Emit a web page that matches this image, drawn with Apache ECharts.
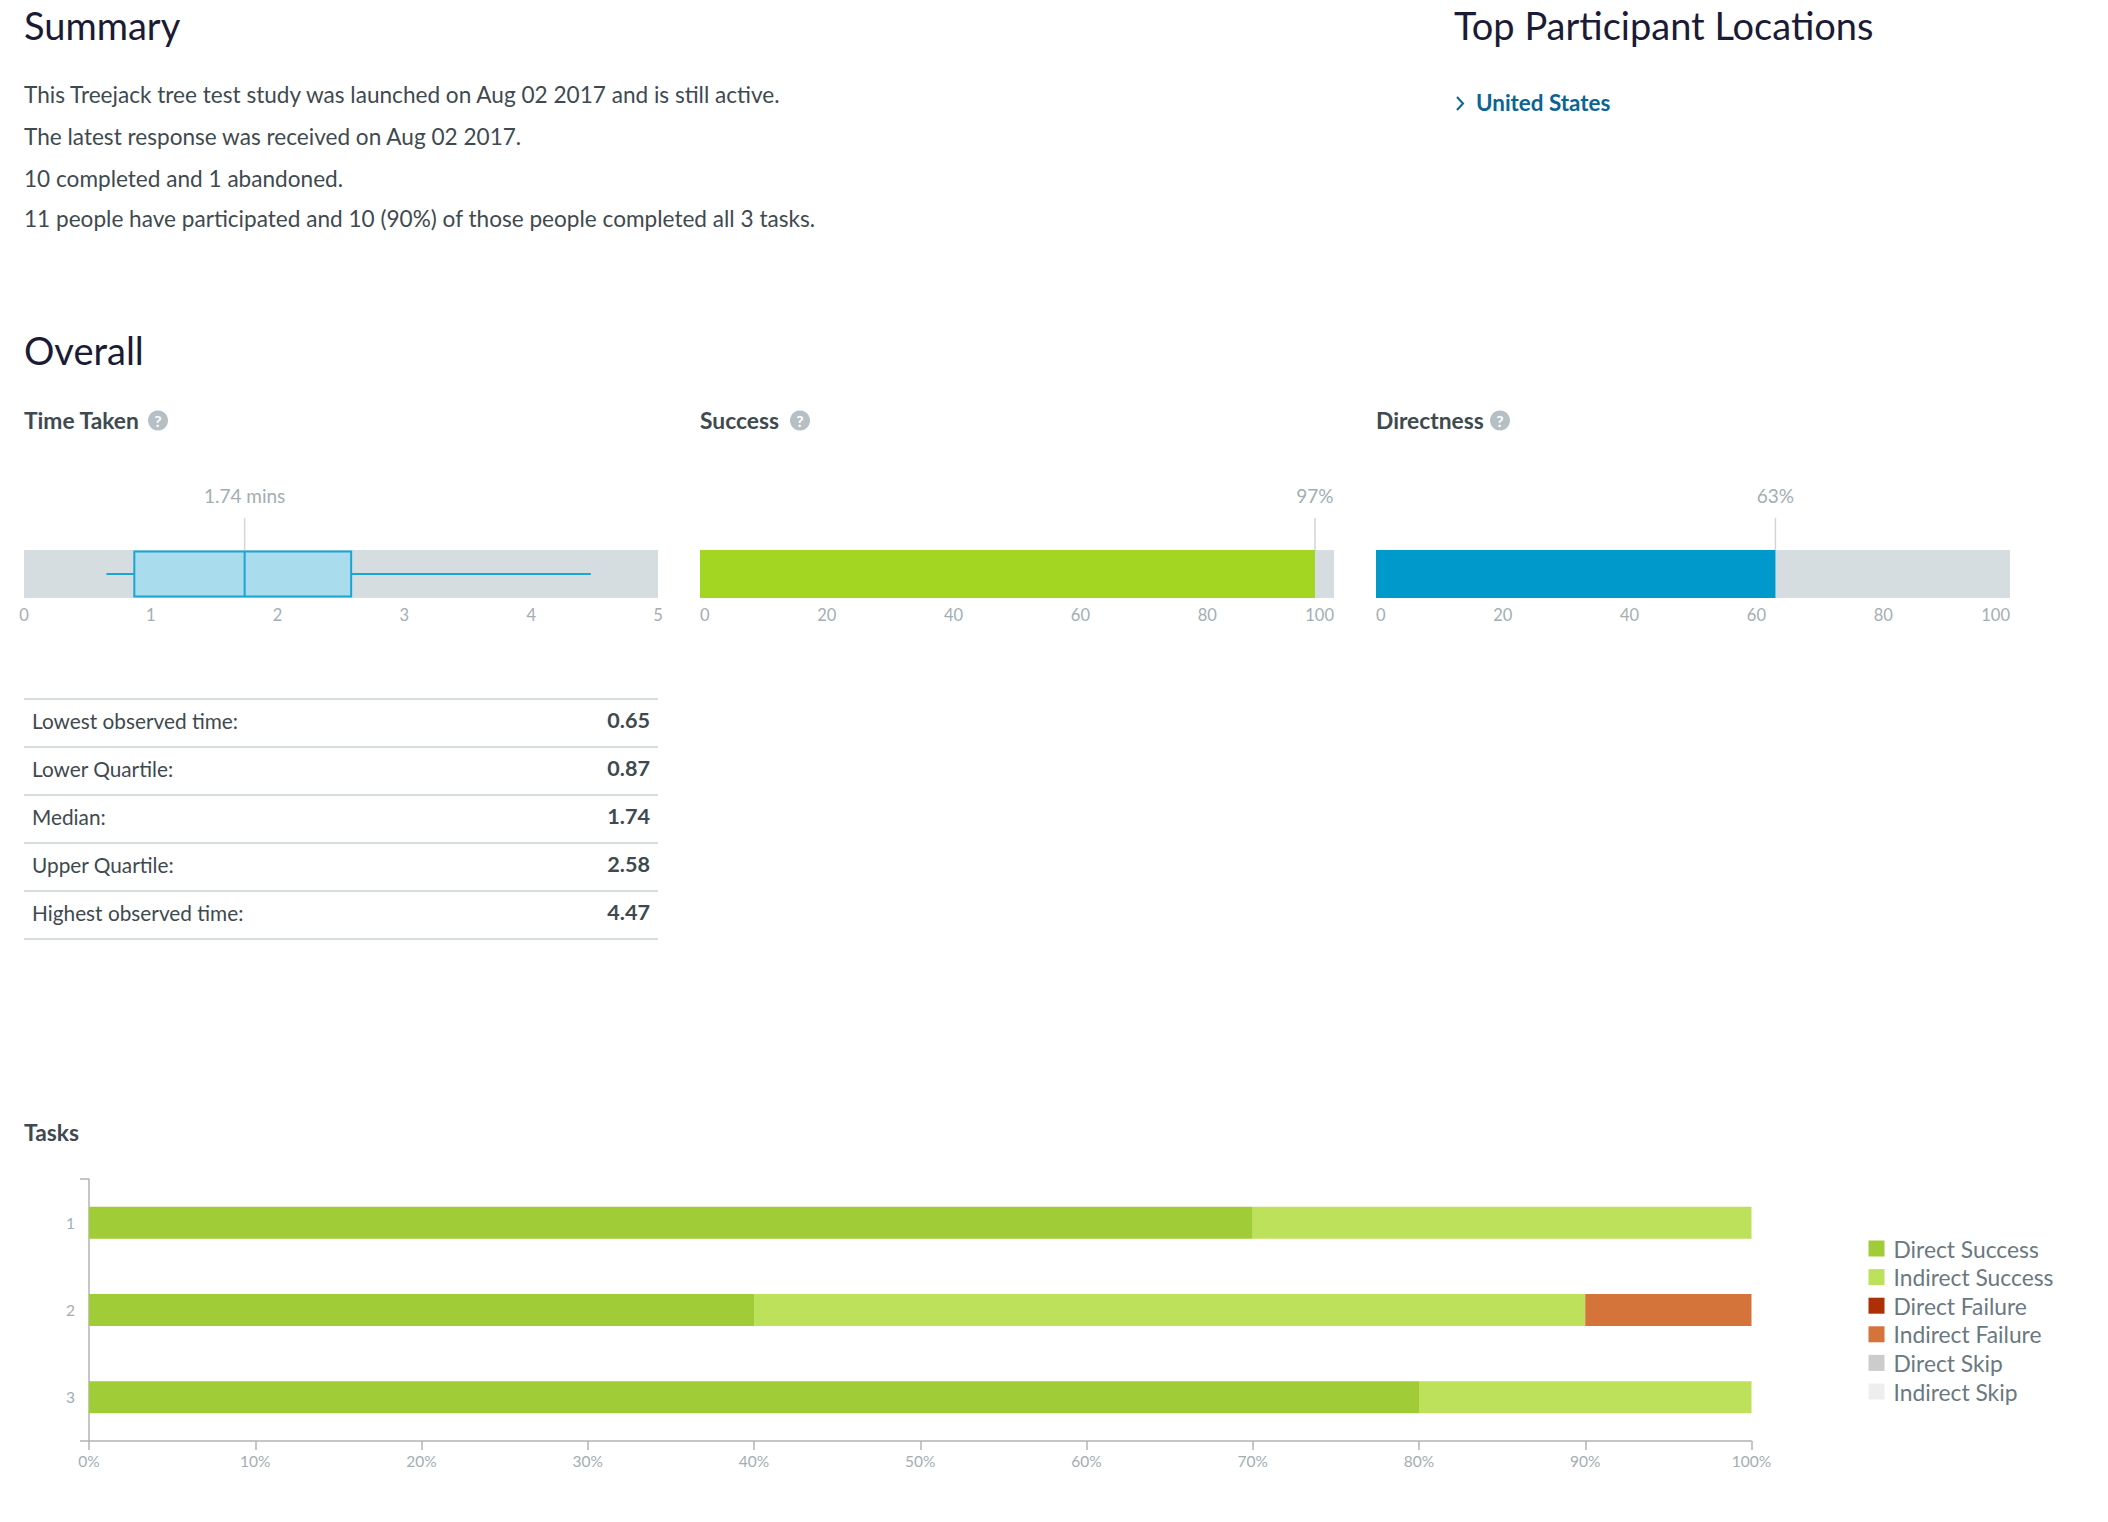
<!DOCTYPE html>
<html>
<head>
<meta charset="utf-8">
<title>Treejack summary</title>
<script src="https://cdn.jsdelivr.net/npm/echarts@6/dist/echarts.min.js"></script>
<style>
  html, body { margin: 0; padding: 0; background: #fff; }
  #chart { width: 2108px; height: 1522px; }
</style>
</head>
<body>
<div id="chart"></div>
<script>
// summary text
const summaryLines = [
  'This Treejack tree test study was launched on Aug 02 2017 and is still active.',
  'The latest response was received on Aug 02 2017.',
  '10 completed and 1 abandoned.',
  '11 people have participated and 10 (90%) of those people completed all 3 tasks.'
]
const topLocation = 'United States'

// overall
const timeStatLabels = ['Lowest observed time:', 'Lower Quartile:', 'Median:', 'Upper Quartile:', 'Highest observed time:']
const timeStats = [0.65, 0.87, 1.74, 2.58, 4.47]
const successPercent = 97
const directnessPercent = 63

// tasks
const taskNames = ['1', '2', '3']
const directSuccess = [70, 40, 80]
const indirectSuccess = [30, 50, 20]
const directFailure = [0, 0, 0]
const indirectFailure = [0, 10, 0]
const directSkip = [0, 0, 0]
const indirectSkip = [0, 0, 0]

const FONT = 'Lato, "Open Sans", sans-serif'
const HEAD = '#1b1b36'
const BODY = '#3f4950'
const MUTED = '#a4adb2'
const TRACK = '#d5dde0'
const BLUE = '#0099cc'

const myChart = echarts.init(document.getElementById('chart'), null, { renderer: 'svg' })

const text = (str, x, y, size, fill, weight, align) => ({
  type: 'text',
  style: {
    text: str, x, y, fill,
    font: `${weight || 400} ${size}px ${FONT}`,
    textAlign: align || 'left',
    textVerticalAlign: 'middle'
  }
})

const helpIcon = (x, y) => ({
  type: 'group',
  children: [
    { type: 'circle', shape: { cx: x, cy: y, r: 10 }, style: { fill: '#b5bfc4' } },
    text('?', x, y, 16, '#fff', 700, 'center')
  ]
})

// page text that sits around the charts
const graphics = [
  text('Summary', 24, 24.5, 38, HEAD),
  text('Top Participant Locations', 1454, 24.5, 38, HEAD),
  text('Overall', 24, 350, 38, HEAD),
  text(topLocation, 1476, 102, 22.4, '#0a6494', 700),
  {
    type: 'polyline',
    shape: { points: [[1457, 97], [1463, 103.5], [1457, 110]] },
    style: { stroke: '#0a6494', lineWidth: 2, fill: 'none' }
  },
  text('Time Taken', 24, 419.5, 22.8, BODY, 700),
  helpIcon(158, 420.5),
  text('Success', 700, 419.5, 22.8, BODY, 700),
  helpIcon(800, 420.5),
  text('Directness', 1376, 419.5, 22.8, BODY, 700),
  helpIcon(1500, 420.5),
  text('Tasks', 24, 1131.5, 22.8, BODY, 700)
]

const summaryY = [94.5, 136, 178, 218]
summaryLines.forEach((line, i) => graphics.push(text(line, 24, summaryY[i], 22.6, BODY)))

// stats table
const tableTop = 699
const rowHeight = 48
graphics.push({ type: 'line', shape: { x1: 24, y1: tableTop, x2: 658, y2: tableTop }, style: { stroke: TRACK, lineWidth: 2 } })
timeStatLabels.forEach((label, i) => {
  const y = tableTop + rowHeight * i
  graphics.push(text(label, 32, y + 21, 20.8, BODY))
  graphics.push(text(timeStats[i].toFixed(2), 650, y + 21, 21.6, BODY, 700, 'right'))
  graphics.push({ type: 'line', shape: { x1: 24, y1: y + rowHeight, x2: 658, y2: y + rowHeight }, style: { stroke: TRACK, lineWidth: 2 } })
})

const smallGrid = left => ({
  left, top: 550, width: 634, height: 48,
  show: true, borderWidth: 0, backgroundColor: TRACK
})

const smallX = (gridIndex, max, interval, edgeAlign) => ({
  type: 'value', gridIndex, min: 0, max, interval,
  splitLine: { show: false }, axisLine: { show: false }, axisTick: { show: false },
  axisLabel: {
    color: MUTED, fontFamily: FONT, fontSize: 16.5, margin: 8.5,
    alignMinLabel: edgeAlign ? 'left' : 'center',
    alignMaxLabel: edgeAlign ? 'right' : 'center'
  }
})

const smallY = gridIndex => ({
  type: 'category', gridIndex, data: ['all'], show: false
})

// value label with a thin leader line, standing on top of the band
const marker = (gridIndex, value, label) => ({
  type: 'custom',
  xAxisIndex: gridIndex,
  yAxisIndex: gridIndex,
  z: 5,
  silent: true,
  data: [[value, 0]],
  renderItem: (params, api) => {
    const p = api.coord([api.value(0), 0])
    const top = p[1] - api.size([0, 1])[1] / 2
    return {
      type: 'group',
      children: [
        { type: 'line', shape: { x1: p[0], y1: top - 32, x2: p[0], y2: top }, style: { stroke: '#cfd7da', lineWidth: 1.5 } },
        {
          type: 'text',
          style: {
            text: label, x: p[0], y: top - 55, fill: MUTED,
            font: `400 19px ${FONT}`, textAlign: 'center', textVerticalAlign: 'middle'
          }
        }
      ]
    }
  }
})

const progress = (gridIndex, value, color) => ({
  type: 'bar',
  xAxisIndex: gridIndex,
  yAxisIndex: gridIndex,
  barWidth: '100%',
  silent: true,
  itemStyle: { color },
  data: [value]
})

const taskSeries = (name, data, color) => ({
  name, type: 'bar', stack: 'tasks',
  xAxisIndex: 3, yAxisIndex: 3,
  barWidth: 32,
  silent: true,
  itemStyle: { color },
  data
})

const option = {
  animation: false,
  graphic: { elements: graphics },
  grid: [
    smallGrid(24),
    smallGrid(700),
    smallGrid(1376),
    { left: 89, top: 1179, right: 356.5, height: 262 }
  ],
  xAxis: [
    smallX(0, 5, 1, false),
    smallX(1, 100, 20, true),
    smallX(2, 100, 20, true),
    {
      type: 'value', gridIndex: 3, min: 0, max: 100, interval: 10,
      splitLine: { show: false },
      axisLine: { show: true, lineStyle: { color: '#b3b3b3', width: 1.5 } },
      axisTick: { show: true, length: 9, lineStyle: { color: '#b3b3b3', width: 1.5 } },
      axisLabel: { color: MUTED, fontFamily: FONT, fontSize: 15.5, margin: 12, formatter: '{value}%' }
    }
  ],
  yAxis: [
    smallY(0),
    smallY(1),
    smallY(2),
    {
      type: 'category', gridIndex: 3, data: taskNames, inverse: true,
      axisLine: { show: true, lineStyle: { color: '#b3b3b3', width: 1.5 } },
      axisTick: { show: true, length: 9, interval: 3, lineStyle: { color: '#b3b3b3', width: 1.5 } },
      axisLabel: { color: MUTED, fontFamily: FONT, fontSize: 15.5, margin: 14 }
    }
  ],
  legend: {
    orient: 'vertical', left: 1863.5, top: 1232,
    itemWidth: 16, itemHeight: 16, itemGap: 5.6,
    icon: 'rect', selectedMode: false,
    textStyle: { color: '#6b7880', fontFamily: FONT, fontSize: 22.8, lineHeight: 16, padding: [0, 0, 0, 4] },
    data: ['Direct Success', 'Indirect Success', 'Direct Failure', 'Indirect Failure', 'Direct Skip', 'Indirect Skip']
  },
  series: [
    {
      // whisker and box, drawn through the value axis
      type: 'custom',
      xAxisIndex: 0,
      yAxisIndex: 0,
      silent: true,
      data: [timeStats],
      encode: { x: [0, 1, 2, 3, 4], y: -1 },
      renderItem: (params, api) => {
        const cy = api.coord([0, 0])[1]
        const h = api.size([0, 1])[1] * 0.94
        const x = i => api.coord([api.value(i), 0])[0]
        const stroke = { stroke: '#1ba5d3', lineWidth: 2 }
        return {
          type: 'group',
          children: [
            { type: 'line', shape: { x1: x(0), y1: cy, x2: x(1), y2: cy }, style: stroke },
            { type: 'line', shape: { x1: x(3), y1: cy, x2: x(4), y2: cy }, style: stroke },
            {
              type: 'rect',
              shape: { x: x(1), y: cy - h / 2, width: x(3) - x(1), height: h },
              style: { fill: '#a9ddee', stroke: '#1ba5d3', lineWidth: 2 }
            },
            { type: 'line', shape: { x1: x(2), y1: cy - h / 2, x2: x(2), y2: cy + h / 2 }, style: stroke }
          ]
        }
      }
    },
    marker(0, timeStats[2], timeStats[2] + ' mins'),
    progress(1, successPercent, '#a3d523'),
    marker(1, successPercent, successPercent + '%'),
    progress(2, directnessPercent, BLUE),
    marker(2, directnessPercent, directnessPercent + '%'),
    taskSeries('Direct Success', directSuccess, '#a0cc38'),
    taskSeries('Indirect Success', indirectSuccess, '#bde15b'),
    taskSeries('Direct Failure', directFailure, '#ad2f05'),
    taskSeries('Indirect Failure', indirectFailure, '#d4733a'),
    taskSeries('Direct Skip', directSkip, '#cccccc'),
    taskSeries('Indirect Skip', indirectSkip, '#eeeeee')
  ]
}

myChart.setOption(option)
</script>
</body>
</html>
